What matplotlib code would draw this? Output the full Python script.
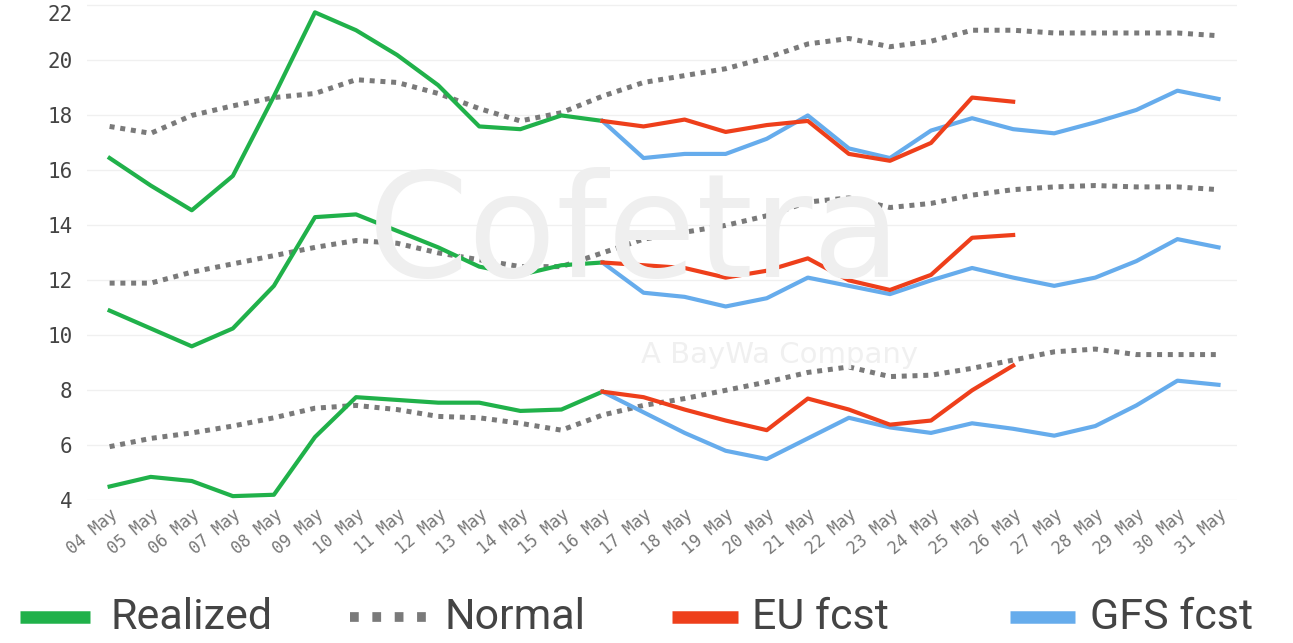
'''
temperature chart: realized vs normal vs EU / GFS forecasts (max, mean, min)
'''
import matplotlib
matplotlib.use('Agg')
import matplotlib.pyplot as plt
from matplotlib.lines import Line2D

days = ['%02d May' % d for d in range(4, 32)]

# realized 04 - 16 May
realized_max = [16.45, 15.45, 14.55, 15.8, 18.7, 21.75, 21.1, 20.2, 19.1, 17.6, 17.5, 18.0, 17.8]
realized_mean = [10.9, 10.25, 9.6, 10.25, 11.8, 14.3, 14.4, 13.8, 13.2, 12.5, 12.2, 12.55, 12.65]
realized_min = [4.5, 4.85, 4.7, 4.15, 4.2, 6.3, 7.75, 7.65, 7.55, 7.55, 7.25, 7.3, 7.95]

# normals 04 - 31 May
normal_max = [17.6, 17.35, 18.0, 18.35, 18.65, 18.8, 19.3, 19.2, 18.8, 18.25, 17.8, 18.1, 18.7, 19.2,
              19.45, 19.7, 20.1, 20.6, 20.8, 20.5, 20.7, 21.1, 21.1, 21.0, 21.0, 21.0, 21.0, 20.9]
normal_mean = [11.9, 11.9, 12.3, 12.6, 12.9, 13.2, 13.45, 13.35, 13.0, 12.75, 12.5, 12.5, 13.0, 13.5,
               13.75, 14.0, 14.35, 14.85, 15.0, 14.65, 14.8, 15.1, 15.3, 15.4, 15.45, 15.4, 15.4, 15.3]
normal_min = [5.95, 6.25, 6.45, 6.7, 7.0, 7.35, 7.45, 7.3, 7.05, 7.0, 6.8, 6.55, 7.1, 7.45,
              7.7, 8.0, 8.3, 8.65, 8.85, 8.5, 8.55, 8.8, 9.1, 9.4, 9.5, 9.3, 9.3, 9.3]

# EU forecast 16 - 26 May
eu_max = [17.8, 17.6, 17.85, 17.4, 17.65, 17.8, 16.6, 16.35, 17.0, 18.65, 18.5]
eu_mean = [12.65, 12.55, 12.45, 12.1, 12.35, 12.8, 12.0, 11.65, 12.2, 13.55, 13.65]
eu_min = [7.95, 7.75, 7.3, 6.9, 6.55, 7.7, 7.3, 6.75, 6.9, 8.0, 8.9]

# GFS forecast 16 - 31 May
gfs_max = [17.8, 16.45, 16.6, 16.6, 17.15, 18.0, 16.8, 16.45, 17.45, 17.9, 17.5, 17.35, 17.75, 18.2, 18.9, 18.6]
gfs_mean = [12.65, 11.55, 11.4, 11.05, 11.35, 12.1, 11.8, 11.5, 12.0, 12.45, 12.1, 11.8, 12.1, 12.7, 13.5, 13.2]
gfs_min = [7.95, 7.2, 6.45, 5.8, 5.5, 6.25, 7.0, 6.65, 6.45, 6.8, 6.6, 6.35, 6.7, 7.45, 8.35, 8.2]

legend_labels = ['Realized', 'Normal', 'EU fcst', 'GFS fcst']

GREEN = '#20b14a'
GREY = '#7a7a7a'
RED = '#ee3f1b'
BLUE = '#66acec'

fig = plt.figure(figsize=(12.93, 6.43), dpi=100)
ax = fig.add_axes([0.067, 0.222, 0.89, 0.778])

x_all = list(range(len(days)))
x_real = x_all[:len(realized_max)]
x_fc = x_all[12:]

# watermark
fig.text(0.491, 0.632, 'Cofetra', fontsize=104, color='#efefef', ha='center', va='center',
         family='DejaVu Sans', zorder=0)
fig.text(0.603, 0.448, 'A BayWa Company', fontsize=21, color='#f0f0f0', ha='center', va='center',
         family='DejaVu Sans', zorder=0)

dot = (0, (1.0, 1.15))
for normal in (normal_max, normal_mean, normal_min):
    ax.plot(x_all, normal, color=GREY, lw=3.6, linestyle=dot, zorder=2)
for real in (realized_max, realized_mean, realized_min):
    ax.plot(x_real, real, color=GREEN, lw=3, zorder=3)
for eu in (eu_max, eu_mean, eu_min):
    ax.plot(x_fc[:len(eu)], eu, color=RED, lw=3, zorder=4)
for gfs in (gfs_max, gfs_mean, gfs_min):
    ax.plot(x_fc, gfs, color=BLUE, lw=3, zorder=3.5)

ax.set_xlim(-0.56, 27.46)
ax.set_ylim(4, 22.2)
ax.set_yticks(range(4, 23, 2))
ax.set_xticks(x_all)
ax.set_xticklabels(days, rotation=40, ha='right', rotation_mode='anchor',
                   fontsize=12, color='#777777', family='DejaVu Sans Mono')
ylabs = ax.get_yticklabels()
for lab in ylabs:
    lab.set_family('DejaVu Sans Mono')
    lab.set_fontsize(15)
    lab.set_color('#444444')
ylabs[-1].set_verticalalignment('top')
ax.tick_params(axis='both', length=0)
ax.tick_params(axis='y', pad=10)
ax.tick_params(axis='x', pad=4)
ax.grid(axis='y', color='#f0f0f0', lw=1)
ax.set_axisbelow(True)
for s in ax.spines.values():
    s.set_visible(False)
ax.patch.set_alpha(0)

# legend along the bottom, items placed like the original
W = 1293.0
ly = 0.04
items = [(GREEN, '-', 20, 90, 110), (GREY, (0, (0.9, 1.4)), 350, 435, 445),
         (RED, '-', 672, 738, 752), (BLUE, '-', 1010, 1075, 1090)]
for (col, ls, x0, x1, tx), lab in zip(items, legend_labels):
    fig.add_artist(Line2D([x0 / W, x1 / W], [ly, ly], transform=fig.transFigure,
                          color=col, lw=9 if ls == '-' else 7, linestyle=ls,
                          solid_capstyle='butt'))
    fig.text(tx / W, ly, lab, fontsize=31, family='Roboto', color='#444444',
             ha='left', va='center')

fig.savefig('out.png', dpi=100)
